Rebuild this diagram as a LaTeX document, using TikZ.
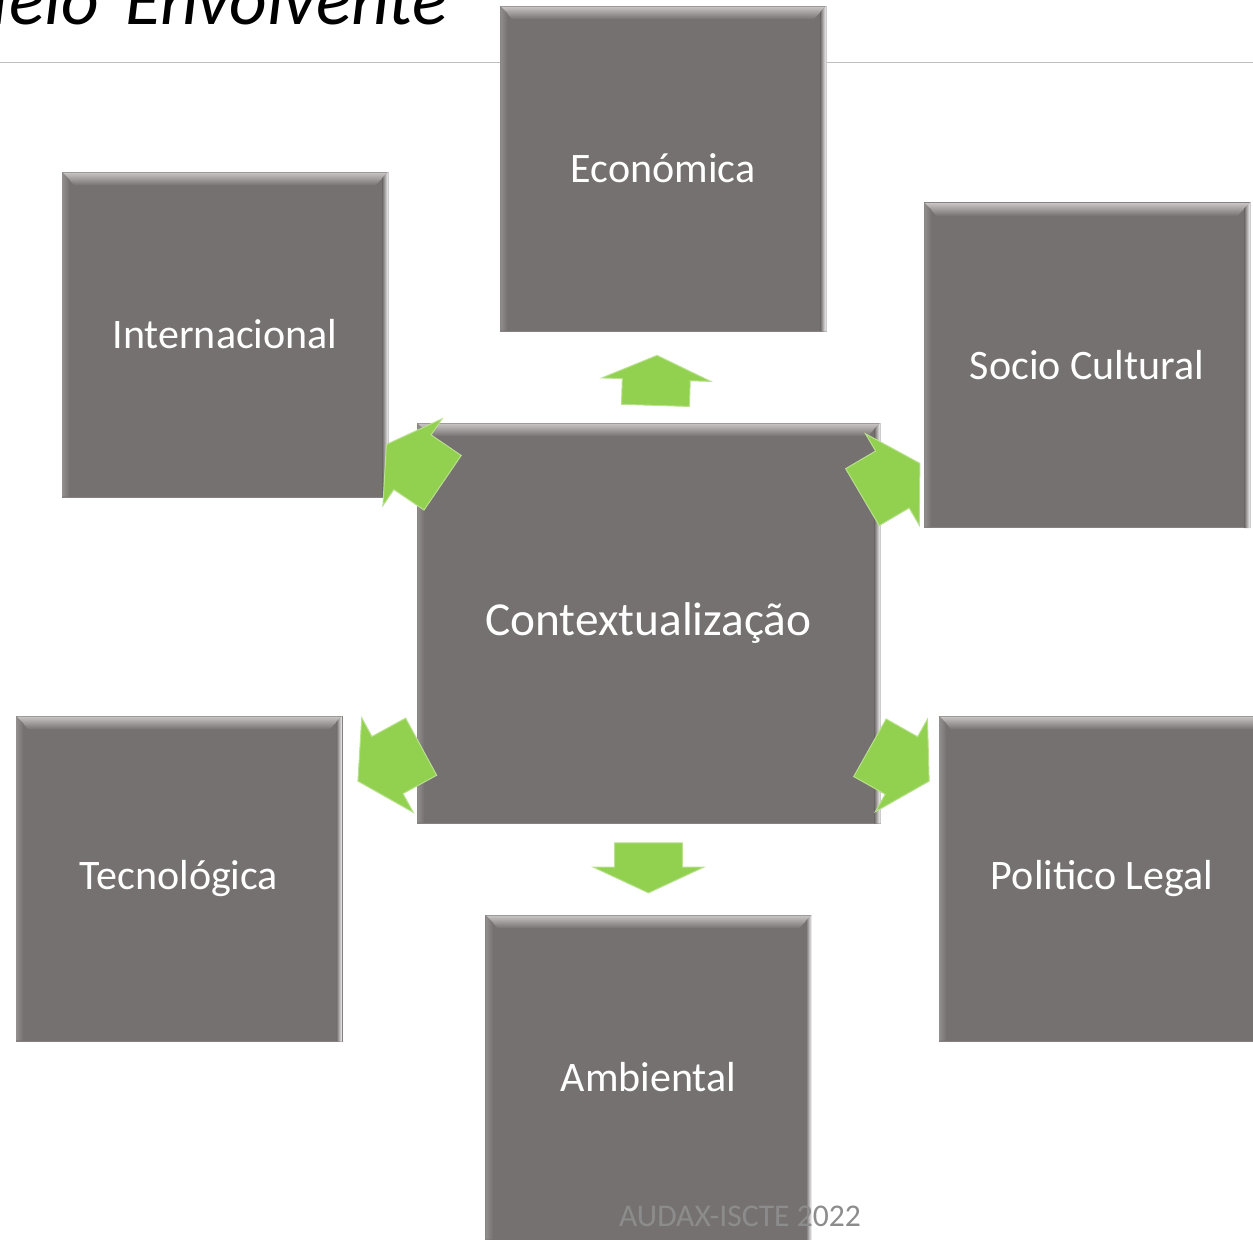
\documentclass[tikz,border=0pt]{standalone}
\usepackage{fontspec}
\setmainfont{Carlito}
\usetikzlibrary{calc,shapes.arrows}

\definecolor{boxgray}{RGB}{118,113,113}
\definecolor{bevlight}{RGB}{200,196,196}
\definecolor{bevleft}{RGB}{146,141,141}
\definecolor{leafgreen}{RGB}{146,208,80}
\definecolor{rulegray}{RGB}{191,191,191}
\definecolor{footgray}{RGB}{140,140,140}

\tikzset{every picture/.style={line width=0.75pt},
	facet/.style={draw={rgb,255:red,135;green,130;blue,130}, fill=boxgray, text=white, inner sep=0pt,
		minimum width=244.5pt, minimum height=243.75pt, font=\fontsize{31.5}{38}\selectfont},
	greenarrow/.style={single arrow, fill=leafgreen, draw=leafgreen!65!white, inner xsep=0pt, minimum width=0pt}
}

\begin{document}
\begin{tikzpicture}[x=0.75pt,y=0.75pt,yscale=-1,xscale=1]
	\useasboundingbox (0,0) rectangle (1253,1239);
	\clip (0,0) rectangle (1253,1239);
	
	% Title
	\node [anchor=base east, inner sep=0pt, font=\fontsize{55}{62}\selectfont\itshape] (title) at (448,24) {Meio\hspace{0.36em}Envolvente};
	%Straight Lines
	\draw [rulegray] (0,62) -- (1253,62) ;
	
	%Shape: Boxes
	\node [facet] (eco) at (663,168.5) {Económica};
	\node [facet] (intl) at (225,334.5) {Internacional};
	\node [facet] (soc) at (1087,365) {Socio Cultural};
	\node [facet, minimum width=347.25pt, minimum height=300pt, font=\fontsize{35.5}{42}\selectfont] (ctx) at (648.5,623) {Contextualização};
	\node [facet] (tec) at (179,878.5) {Tecnológica};
	\node [facet] (pol) at (1102,878.5) {Politico Legal};
	\node [facet] (amb) at (648.5,1077.5) {Ambiental};
	
	% bevels
	\foreach \b in {eco,intl,soc,ctx,tec,pol,amb}{
		\shade [top color=bevlight, bottom color=boxgray] ($(\b.north west)+(1,1)$) -- ($(\b.north east)+(-1,1)$) -- ($(\b.north east)+(-13,14)$) -- ($(\b.north west)+(13,14)$) -- cycle;
		\shade [left color=bevleft, right color=boxgray] ($(\b.north west)+(1,1)$) -- ($(\b.north west)+(8,8)$) -- ($(\b.south west)+(8,-1)$) -- ($(\b.south west)+(1,-1)$) -- cycle;
		\shade [left color=boxgray, right color=white] ($(\b.north east)+(-6,6)$) -- ($(\b.north east)+(0,0)$) -- (\b.south east) -- ($(\b.south east)+(-6,0)$) -- cycle;
	}
	
	%Shape: Arrows
	\foreach \tgt/\pos/\len/\shaft/\ext/\tip in {eco/0.59/37.5pt/25.1pt/15.4pt/132, amb/0.595/37.5pt/25.1pt/16pt/130,
		intl/0.62/51pt/24.4pt/14.6pt/118, soc/0.62/50pt/24.4pt/15pt/118, tec/0.62/54pt/24pt/16pt/116, pol/0.62/51pt/24.4pt/15pt/118}{
		\path let \p1 = ($(\tgt)-(ctx)$), \n1 = {atan2(\y1,\x1)} in
			node [greenarrow, minimum height=\len, inner ysep=\shaft, single arrow head extend=\ext,
				single arrow tip angle=\tip, rotate=-\n1, anchor=tip] (arr-\tgt) at ($(ctx)!\pos!(\tgt)$) {};
	}
	
	% Text Node
	\node [anchor=base, inner sep=0pt, text=footgray, font=\fontsize{23.7}{28}\selectfont] (foot) at (740,1226) {AUDAX-ISCTE 2022};
	
\end{tikzpicture}
\end{document}
